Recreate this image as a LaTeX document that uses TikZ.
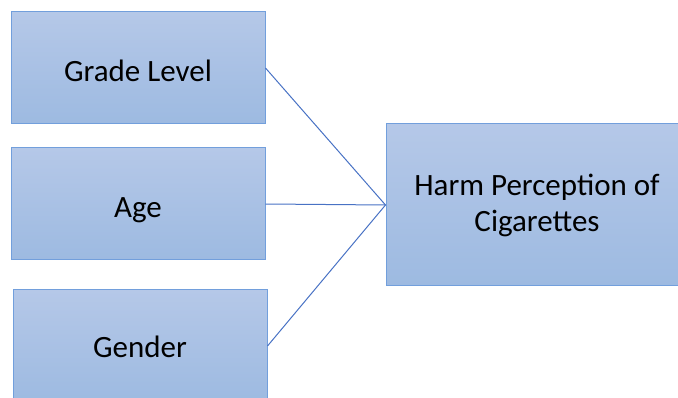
\documentclass[tikz,border=0pt]{standalone}
\usepackage{fontspec}
\setmainfont{Carlito}
\definecolor{boxtop}{RGB}{181,200,232}
\definecolor{boxbot}{RGB}{157,186,225}
\definecolor{boxedge}{RGB}{114,159,220}
\definecolor{linkcol}{RGB}{72,114,196}
\tikzset{
  box/.style={rectangle, draw=boxedge, line width=1pt, top color=boxtop, bottom color=boxbot,
    minimum width=254pt, minimum height=112pt, inner sep=0pt, align=center,
    font=\fontsize{31}{36}\selectfont, text=black},
  onebox/.style={box, text height=28pt, text depth=0pt},
  link/.style={draw=linkcol, line width=1pt}
}
\begin{document}
\begin{tikzpicture}[x=1pt,y=-1pt]
\useasboundingbox (0,0) rectangle (678,398);
\clip (0,0) rectangle (678,398);
\node[onebox] (grade) at (138,68) {Grade Level};
\node[onebox] (age) at (138,204) {Age};
\node[onebox, text height=22pt] (gender) at (140,346) {Gender};
\node[box, minimum width=302pt, minimum height=162pt] (harm) at (537,205) {Harm Perception of\\Cigarettes};
\draw[link] (grade.east) -- (harm.west);
\draw[link] (age.east) -- (harm.west);
\draw[link] (gender.east) -- (harm.west);
\end{tikzpicture}
\end{document}
